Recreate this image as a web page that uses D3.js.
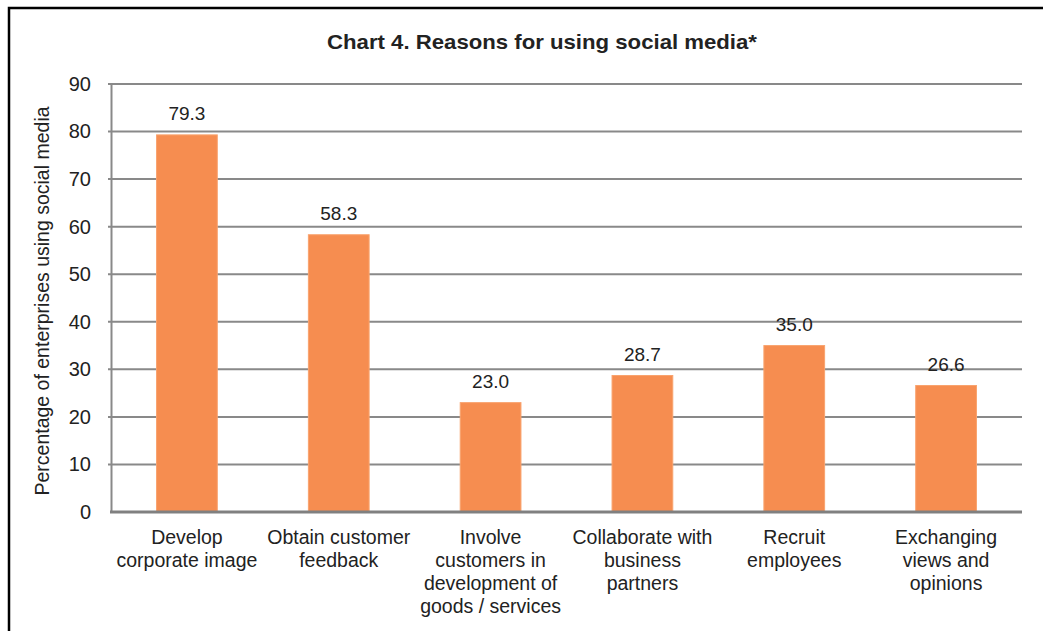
<!DOCTYPE html>
<html>
<head>
<meta charset="utf-8">
<script src="https://cdn.jsdelivr.net/npm/d3@7"></script>
<style>
  html, body { margin: 0; padding: 0; background: #fff; }
  svg { display: block; font-family: "Liberation Sans", Arial, sans-serif; }
</style>
</head>
<body>
<svg id="chart" width="1043" height="631"></svg>
<script>
// Reasons for using social media (% of enterprises using social media)
const categories = [
  ["Develop", "corporate image"],
  ["Obtain customer", "feedback"],
  ["Involve", "customers in", "development of", "goods / services"],
  ["Collaborate with", "business", "partners"],
  ["Recruit", "employees"],
  ["Exchanging", "views and", "opinions"]
];
const values = [79.3, 58.3, 23.0, 28.7, 35.0, 26.6];
const yTicks = [0, 10, 20, 30, 40, 50, 60, 70, 80, 90];
const titleText = "Chart 4. Reasons for using social media*";
const yTitle = "Percentage of enterprises  using social media";

const svg = d3.select("#chart");
const W = 1043, H = 631;
const plot = { left: 111, right: 1022, top: 84, bottom: 512 };

// outer frame (continues past the right and bottom edges)
svg.append("rect")
  .attr("x", 9).attr("y", 8)
  .attr("width", W + 20).attr("height", H + 20)
  .attr("fill", "#fff").attr("stroke", "#000").attr("stroke-width", 2.5);

// title
svg.append("text")
  .attr("x", 542).attr("y", 49)
  .attr("text-anchor", "middle")
  .attr("font-size", 21).attr("font-weight", "bold")
  .attr("fill", "#222")
  .attr("textLength", 430).attr("lengthAdjust", "spacingAndGlyphs")
  .text(titleText);

const x = d3.scaleBand()
  .domain(d3.range(categories.length))
  .range([plot.left, plot.right])
  .paddingInner(0.6).paddingOuter(0.3);

const y = d3.scaleLinear().domain([0, 90]).range([plot.bottom, plot.top]);

// gridlines
svg.append("g")
  .selectAll("line")
  .data(yTicks.filter(t => t > 0))
  .join("line")
  .attr("x1", plot.left - 3).attr("x2", plot.right)
  .attr("y1", d => y(d)).attr("y2", d => y(d))
  .attr("stroke", "#898989").attr("stroke-width", 2);

// y axis
const yAxis = d3.axisLeft(y).tickValues(yTicks).tickSize(0).tickPadding(20).tickFormat(d3.format("d"));
const gy = svg.append("g").attr("transform", `translate(${plot.left},0)`).call(yAxis);
gy.select(".domain").attr("stroke", "#898989").attr("stroke-width", 2);
gy.selectAll("text")
  .attr("font-size", 20).attr("fill", "#222")
  .attr("font-family", "Liberation Sans, Arial, sans-serif");

// bars
svg.append("g")
  .selectAll("rect")
  .data(values)
  .join("rect")
  .attr("x", (d, i) => x(i))
  .attr("y", d => y(d))
  .attr("width", x.bandwidth())
  .attr("height", d => y(0) - y(d))
  .attr("fill", "#F68D50")
  .attr("stroke", "#F9A36E").attr("stroke-width", 1);

// x axis baseline
svg.append("line")
  .attr("x1", plot.left - 1).attr("x2", plot.right)
  .attr("y1", y(0)).attr("y2", y(0))
  .attr("stroke", "#808080").attr("stroke-width", 3);

// value labels
svg.append("g")
  .selectAll("text")
  .data(values)
  .join("text")
  .attr("x", (d, i) => x(i) + x.bandwidth() / 2)
  .attr("y", d => y(d) - 15)
  .attr("text-anchor", "middle")
  .attr("font-size", 19).attr("fill", "#222")
  .text(d => d.toFixed(1));

// category labels
const cat = svg.append("g")
  .selectAll("text")
  .data(categories)
  .join("text")
  .attr("text-anchor", "middle")
  .attr("font-size", 19.5).attr("fill", "#222");
cat.selectAll("tspan")
  .data((d, i) => d.map(line => ({ line, i })))
  .join("tspan")
  .attr("x", d => x(d.i) + x.bandwidth() / 2)
  .attr("y", (d, j) => 544 + j * 23)
  .text(d => d.line);

// y axis title
svg.append("text")
  .attr("transform", `translate(49,${(plot.top + plot.bottom) / 2 + 3}) rotate(-90)`)
  .attr("text-anchor", "middle")
  .attr("font-size", 19.5).attr("fill", "#222")
  .text(yTitle);
</script>
</body>
</html>
